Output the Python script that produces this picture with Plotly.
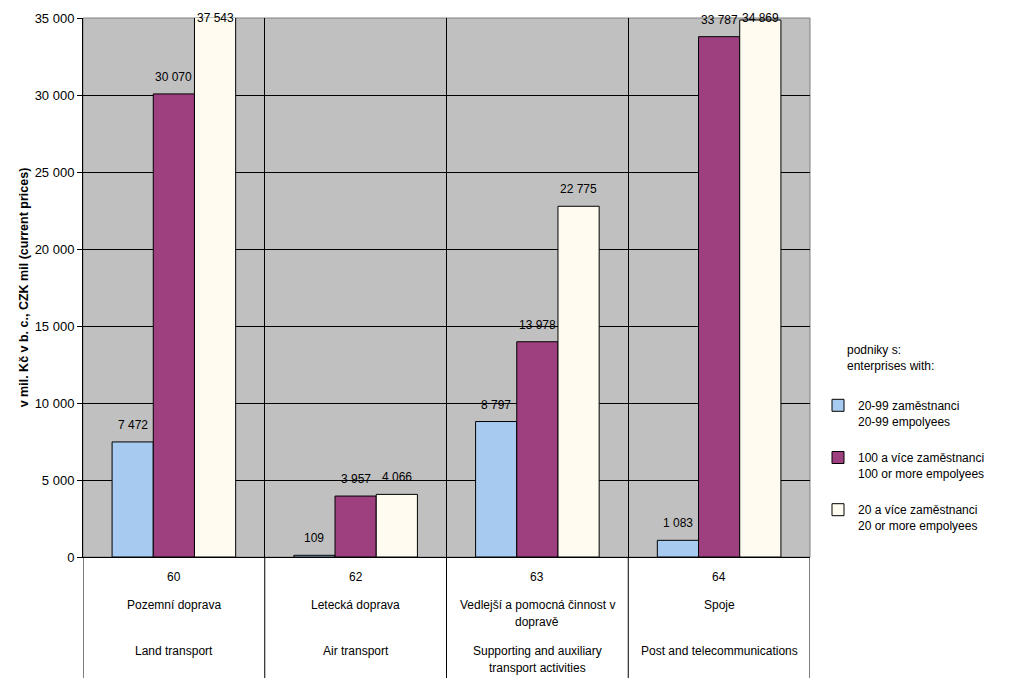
import plotly.graph_objects as go

codes = ["60", "62", "63", "64"]
names_cz = ["Pozemní doprava", "Letecká doprava", "Vedlejší a pomocná činnost v<br>dopravě", "Spoje"]
names_en = ["Land transport", "Air transport", "Supporting and auxiliary<br>transport activities", "Post and telecommunications"]

legend_title = "podniky s:<br>enterprises with:"
series_names = [
    "20-99 zaměstnanci<br>20-99 empolyees",
    "100 a více zaměstnanci<br>100 or more empolyees",
    "20 a více zaměstnanci<br>20 or more empolyees",
]
values_small = [7472, 109, 8797, 1083]
values_large = [30070, 3957, 13978, 33787]
values_total = [37543, 4066, 22775, 34869]
series_values = [values_small, values_large, values_total]
colors = ["#A6CAF0", "#9E3F7F", "#FFFBF0"]

y_max = 35000
y_ticks = [0, 5000, 10000, 15000, 20000, 25000, 30000, 35000]

FONT = "Liberation Sans, Arial, sans-serif"
OFF = 8  # page body margin
W, H = 1022, 698
L, T = 83 - OFF, 18 - OFF
R = W - (810 - OFF)
B = H - (557 - OFF)
plot_h = H - T - B
plot_w = W - L - R
bargap = 0.32
bar_w = (1 - bargap) / 3
LINE = 17  # px between text lines in the category table

fig = go.Figure()
for k, (nm, vals, col) in enumerate(zip(series_names, series_values, colors)):
    fig.add_trace(go.Bar(
        x=codes, y=vals, name=nm,
        marker=dict(color=col, line=dict(color="black", width=1)),
        legendgroup=str(k), hoverinfo="y",
    ))

def fmt(v):
    return f"{v:,}".replace(",", " ")

units_per_px = y_max / plot_h
annotations = []
for k, vals in enumerate(series_values):
    for i, v in enumerate(vals):
        yc = min(v + 17 * units_per_px, y_max)
        annotations.append(dict(
            x=i + (k - 1) * bar_w, y=yc, xref="x", yref="y",
            text=fmt(v), showarrow=False, yanchor="middle",
            font=dict(family=FONT, size=12, color="black"),
        ))

def py(px):
    # reference screen pixel -> paper coordinate
    return (H - B - (px - OFF)) / plot_h

def px_x(px):
    return (px - OFF - L) / plot_w

def add_lines(i, text, y_first):
    for j, line in enumerate(text.split("<br>")):
        annotations.append(dict(x=i, y=py(y_first + j * LINE), xref="x", yref="paper",
                                text=line, showarrow=False, yanchor="middle",
                                font=dict(family=FONT, size=12, color="black")))

for i in range(len(codes)):
    add_lines(i, codes[i], 577)
    add_lines(i, names_cz[i], 605)
    add_lines(i, names_en[i], 651)

annotations.append(dict(x=px_x(845), y=py(341), xref="paper", yref="paper",
                        text=legend_title, showarrow=False, xanchor="left", yanchor="top",
                        align="left", font=dict(family=FONT, size=12, color="black")))

shapes = []
for b in [-0.5, 0.5, 1.5, 2.5, 3.5]:
    shapes.append(dict(type="line", xref="x", yref="paper", x0=b, x1=b,
                       y0=0, y1=py(678), line=dict(color="black", width=1)))
shapes.append(dict(type="rect", xref="paper", yref="paper", x0=0, x1=1, y0=0, y1=1,
                   line=dict(color="#808080", width=1), layer="below"))

fig.update_layout(
    width=W, height=H,
    margin=dict(l=L, r=R, t=T, b=B, autoexpand=False),
    paper_bgcolor="white", plot_bgcolor="#C0C0C0",
    barmode="group", bargap=bargap, bargroupgap=0,
    separators=", ",
    font=dict(family=FONT, size=12, color="black"),
    showlegend=True,
    legend=dict(
        x=px_x(818), y=py(391), xanchor="left", yanchor="top",
        font=dict(family=FONT, size=12, color="black"),
        tracegroupgap=18, valign="top", bgcolor="rgba(0,0,0,0)",
    ),
    xaxis=dict(
        type="category", range=[-0.5, 3.5], tickson="boundaries",
        showgrid=True, gridcolor="black", gridwidth=1, automargin=False,
        showticklabels=False, ticks="", showline=True, linecolor="black", linewidth=1,
        zeroline=False, fixedrange=True,
    ),
    yaxis=dict(
        range=[0, y_max], tickvals=y_ticks, tickformat=",d", automargin=False,
        showgrid=True, gridcolor="black", gridwidth=1,
        ticks="outside", ticklen=5, tickcolor="black",
        showline=True, linecolor="black", linewidth=1, zeroline=False,
        tickfont=dict(family=FONT, size=13, color="black"),
        title=dict(text="<b>v mil. Kč v b. c., CZK mil (current prices)</b>",
                   font=dict(family=FONT, size=12.5, color="black"), standoff=3),
        fixedrange=True,
    ),
    annotations=annotations,
    shapes=shapes,
)

fig.write_html("out.html")
